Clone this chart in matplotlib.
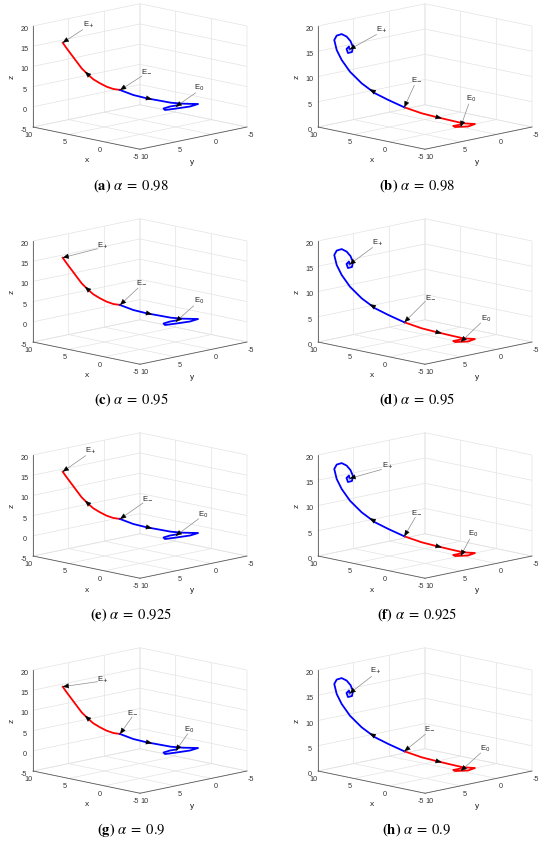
import numpy as np
import matplotlib
matplotlib.use("Agg")
import matplotlib.pyplot as plt
from matplotlib.patches import FancyArrowPatch
from mpl_toolkits.mplot3d import proj3d

# ---------------- data ----------------
letters = ["a", "b", "c", "d", "e", "f", "g", "h"]
alphas = ["0.98", "0.98", "0.95", "0.95", "0.925", "0.925", "0.9", "0.9"]

x_ticks = [-5, 0, 5, 10]
y_ticks = [-5, 0, 5, 10]
z_ticks_left = [-5, 0, 5, 10, 15, 20]
z_ticks_right = [0, 5, 10, 15, 20]

# left column: red branch E- -> E+, blue branch E- -> E0
left_red_x = [3.90, 4.37, 4.84, 5.30, 5.77, 6.19, 6.59, 6.94, 7.29, 7.64, 7.92]
left_red_y = [3.90, 4.37, 4.84, 5.30, 5.77, 6.19, 6.59, 6.94, 7.29, 7.64, 7.92]
left_red_z = [4.16, 4.41, 4.98, 5.81, 6.80, 8.12, 9.52, 11.17, 12.82, 14.47, 15.87]

left_blue_x = [3.90, 2.97, 2.03, 1.10, 0.33, -0.52, -1.57, -1.00, 0.05, 0.75, 0.85, 0.40, -0.10]
left_blue_y = [3.90, 2.97, 2.03, 1.10, 0.33, -0.52, -1.57, -1.00, 0.05, 0.75, 0.85, 0.40, -0.10]
left_blue_z = [4.16, 2.92, 2.10, 1.51, 1.01, 0.77, 0.69, 0.07, -0.47, -0.79, -0.42, 0.07, 0.37]

# right column: blue branch E- -> E+ (spiral), red branch E- -> E0
right_blue_x = [3.95, 5.07, 6.00, 6.94, 7.76, 8.34, 8.69, 8.86, 8.69, 8.34, 7.99,
                7.72, 7.55, 7.62, 7.90, 8.00, 7.83, 7.79]
right_blue_y = [3.95, 5.07, 6.00, 6.94, 7.76, 8.34, 8.69, 8.86, 8.69, 8.34, 7.99,
                7.72, 7.55, 7.62, 7.90, 8.00, 7.83, 7.79]
right_blue_z = [3.90, 5.35, 6.67, 8.65, 10.95, 13.27, 15.25, 17.23, 18.10, 18.40, 17.90,
                17.00, 15.84, 14.85, 14.65, 15.45, 15.94, 15.35]

right_red_x = [3.95, 2.73, 1.80, 0.63, -0.18, -1.00, -0.52, 0.40, 0.52, -0.02]
right_red_y = [3.95, 2.73, 1.80, 0.63, -0.18, -1.00, -0.52, 0.40, 0.52, -0.02]
right_red_z = [3.90, 2.71, 2.04, 1.25, 0.73, 0.59, 0.10, 0.00, 0.20, 0.50]

# equilibria (x, y, z)
left_E_plus = (7.92, 7.92, 15.87)
left_E_minus = (3.90, 3.90, 4.16)
right_E_plus = (7.79, 7.79, 15.35)
right_E_minus = (3.95, 3.95, 3.90)
E_zero = (0.0, 0.0, 0.0)

# ---------------- layout / style ----------------
W, H = 550, 842
plt.rcParams["font.family"] = ["Liberation Sans", "DejaVu Sans"]
plt.rcParams["mathtext.fontset"] = "stix"
plt.rcParams["axes.unicode_minus"] = False
plt.rcParams["grid.color"] = "#e3e3e3"
plt.rcParams["grid.linewidth"] = 0.5

col_off = [0, 285]
row_off = [0, 215, 429, 644]
cap_x = [131, 417]
cap_y = [186, 400, 615, 830]
# axis-label positions relative to panel origin (image px)
xlab_pos = (87, 161)
ylab_pos = (192, 162)
zlab_pos = (12, 77)

# annotation offsets (image px, relative to target): label (dx,dy), arrow tail (dx,dy)
ann = {
    "a": {"+": ((26, -18), (20, -13)), "-": ((27, -19), (22, -14)), "0": ((23, -19), (20, -14))},
    "b": {"+": ((32, -20), (27, -15)), "-": ((12, -28), (10, -22)), "0": ((10, -28), (8, -23))},
    "c": {"+": ((40, -12), (35, -9)), "-": ((22, -23), (18, -17)), "0": ((23, -21), (18, -16))},
    "d": {"+": ((28, -22), (23, -17)), "-": ((26, -25), (21, -21)), "0": ((25, -23), (20, -19))},
    "e": {"+": ((28, -21), (23, -16)), "-": ((28, -21), (23, -16)), "0": ((27, -21), (23, -17))},
    "f": {"+": ((38, -13), (32, -9)), "-": ((12, -24), (11, -19)), "0": ((12, -22), (9, -17))},
    "g": {"+": ((40, -7), (35, -5)), "-": ((13, -22), (12, -17)), "0": ((13, -21), (12, -17))},
    "h": {"+": ((26, -23), (22, -17)), "-": ((25, -23), (21, -17)), "0": ((24, -22), (20, -18))},
}

fig = plt.figure(figsize=(W / 100, H / 100), dpi=100)
fig.patch.set_facecolor("white")

axes = []
targets = []
for i in range(8):
    r, c = divmod(i, 2)
    ax = fig.add_axes([0.02 + 0.5 * c, 0.78 - 0.255 * r, 0.42, 0.42 * W / H],
                      projection="3d", proj_type="ortho")
    zlo = -5 if c == 0 else 0
    ax.set_xlim(-5, 10)
    ax.set_ylim(-5, 10)
    ax.set_zlim(zlo, 20)
    ax.set_xticks(x_ticks)
    ax.set_yticks(y_ticks)
    ax.set_zticks(z_ticks_left if c == 0 else z_ticks_right)
    ax.view_init(elev=12, azim=135)
    ax._asp = [1.0, 1.0, 0.68]
    ax.set_box_aspect(ax._asp)
    for axis in (ax.xaxis, ax.yaxis, ax.zaxis):
        axis.set_pane_color((1, 1, 1, 0))
        axis.pane.set_edgecolor("#dcdcdc")
        axis.pane.set_linewidth(0.5)
        axis.line.set_color("#5a5a5a")
        axis.line.set_linewidth(0.6)
        axis._axinfo["tick"]["inward_factor"] = 0.0
        axis._axinfo["tick"]["outward_factor"] = 0.0
    ax.zaxis.set_ticks_position("upper")
    ax.tick_params(labelsize=5.2, colors="#333333", pad=-4.5)

    if c == 0:
        ax.plot(left_red_x, left_red_y, left_red_z, color="#ff0000", lw=1.3)
        ax.plot(left_blue_x, left_blue_y, left_blue_z, color="#0000ff", lw=1.3)
    else:
        ax.plot(right_red_x, right_red_y, right_red_z, color="#ff0000", lw=1.3)
        ax.plot(right_blue_x, right_blue_y, right_blue_z, color="#0000ff", lw=1.3)

    ox, oy = col_off[c], row_off[r]
    targets.append(((33 + ox, 127 + oy), (247 + ox, 126 + oy), (33 + ox, 26 + oy), zlo))
    axes.append(ax)


def proj_px(ax, pts):
    p = np.asarray(pts, float)
    xs, ys, _ = proj3d.proj_transform(p[:, 0], p[:, 1], p[:, 2], ax.get_proj())
    d = ax.transData.transform(np.column_stack([xs, ys]))
    d[:, 1] = H - d[:, 1]
    return d


for it in range(6):
    fig.canvas.draw()
    for ax, (tL, tR, tT, zlo) in zip(axes, targets):
        L, R, T = proj_px(ax, [(10, 10, zlo), (-5, -5, zlo), (10, 10, 20)])
        f = (tR[0] - tL[0]) / (R[0] - L[0])
        zf = ((tL[1] - tT[1]) / (L[1] - T[1])) / f
        pos = ax.get_position()
        cx = (pos.x0 + pos.x1) / 2 * W
        cy = H - (pos.y0 + pos.y1) / 2 * H
        newLx = cx + f * (L[0] - cx)
        newLy = cy + f * (L[1] - cy)
        ncx = cx + (tL[0] - newLx)
        ncy = cy + (tL[1] - newLy)
        nw = pos.width * f
        nh = pos.height * f
        ax.set_position([ncx / W - nw / 2, 1 - ncy / H - nh / 2, nw, nh])
        if it < 4:
            ax._asp[2] *= zf
            ax.set_box_aspect(ax._asp)

fig.canvas.draw()


def fig_xy(p):
    return (p[0] / W, 1 - p[1] / H)


def head(tip, frm, color="k", length=4.0):
    d = np.asarray(tip) - np.asarray(frm)
    d = d / np.hypot(*d)
    start = np.asarray(tip) - d * length
    fig.add_artist(FancyArrowPatch(fig_xy(start), fig_xy(tip), transform=fig.transFigure,
                                   arrowstyle="-|>,head_length=1.2,head_width=0.5",
                                   mutation_scale=3.2, color=color, lw=0.3,
                                   shrinkA=0, shrinkB=0))


for i, ax in enumerate(axes):
    r, c = divmod(i, 2)
    let = letters[i]
    ox, oy = col_off[c], row_off[r]
    if c == 0:
        eqs = {"+": left_E_plus, "-": left_E_minus, "0": E_zero}
        red = list(zip(left_red_x, left_red_y, left_red_z))
        blue = list(zip(left_blue_x, left_blue_y, left_blue_z))
        arrows = [(red, 5), (blue, 2)]
    else:
        eqs = {"+": right_E_plus, "-": right_E_minus, "0": E_zero}
        red = list(zip(right_red_x, right_red_y, right_red_z))
        blue = list(zip(right_blue_x, right_blue_y, right_blue_z))
        arrows = [(blue, 2), (red, 2)]
    for pts, k in arrows:
        pp = proj_px(ax, pts)
        tip = pp[k] + 0.4 * (pp[k + 1] - pp[k])
        head(tip, pp[k - 1])
    for key in ["+", "-", "0"]:
        tgt = proj_px(ax, [eqs[key]])[0]
        (ldx, ldy), (tdx, tdy) = ann[let][key]
        tail = tgt + np.array([tdx, tdy])
        fig.add_artist(FancyArrowPatch(fig_xy(tail), fig_xy(tgt), transform=fig.transFigure,
                                       arrowstyle="-", color="#8c8c8c", lw=0.5,
                                       shrinkA=0, shrinkB=0))
        head(tgt, tail)
        lab = tgt + np.array([ldx, ldy])
        fig.text(*fig_xy(lab), "E$_{%s}$" % ("-" if key == "-" else key), fontsize=5.5,
                 ha="center", va="center", color="#222222", math_fontfamily="dejavusans")

    # axis labels
    fig.text(*fig_xy((xlab_pos[0] + ox, xlab_pos[1] + oy)), "x", fontsize=6,
             ha="center", va="center", color="#222222")
    fig.text(*fig_xy((ylab_pos[0] + ox, ylab_pos[1] + oy)), "y", fontsize=6,
             ha="center", va="center", color="#222222")
    fig.text(*fig_xy((zlab_pos[0] + ox, zlab_pos[1] + oy)), "z", fontsize=6,
             ha="center", va="center", rotation=90, color="#222222")

    fig.text(cap_x[c] / W, 1 - cap_y[r] / H,
             r"$\mathbf{(%s)}\ \alpha\;=\;%s$" % (let, alphas[i]),
             fontsize=10.5, ha="center", va="center", color="black")

fig.savefig("out.png", dpi=100, facecolor="white")
